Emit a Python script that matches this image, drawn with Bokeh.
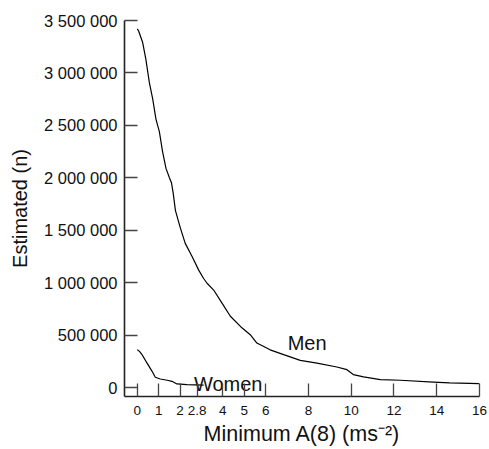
from bokeh.plotting import figure
from bokeh.models import FixedTicker, Range1d, ColumnDataSource
from bokeh.core.properties import value
from bokeh.embed import file_html
from bokeh.resources import INLINE

# ---- data ----
men_x = [0, 0.06, 0.25, 0.4, 0.56, 0.72, 0.87, 1.03, 1.18, 1.34, 1.5, 1.6, 1.68,
         1.78, 2.0, 2.24, 2.56, 2.87, 3.1, 3.26, 3.57, 3.96, 4.35, 4.89, 5.28,
         5.59, 6.21, 6.84, 7.62, 8.4, 9.33, 9.8, 10.1, 10.58, 11.36, 12.29,
         13.85, 14.6, 16]
men_y = [3420000, 3400000, 3290000, 3130000, 2910000, 2750000, 2560000, 2440000,
         2250000, 2090000, 2000000, 1950000, 1850000, 1690000, 1530000, 1375000,
         1250000, 1120000, 1040000, 995000, 930000, 805000, 680000, 570000,
         504000, 425000, 360000, 314000, 260000, 234000, 196000, 171000, 124000,
         102000, 76000, 70000, 53000, 44000, 38000]

women_x = [0, 0.1, 0.22, 0.45, 0.69, 0.84, 1.07, 1.4, 1.62, 1.85, 2.32, 3.1]
women_y = [361000, 345000, 314000, 235000, 155000, 98000, 82000, 70000, 60000,
           35000, 29000, 24000]

label_x = [7.94, 4.25]
label_y = [428000, 38000]
label_text = ["Men", "Women"]

x_ticks = [0, 1, 2, 2.8, 4, 5, 6, 8, 10, 12, 14, 16]
x_tick_labels = ["0", "1", "2", "2.8", "4", "5", "6", "8", "10", "12", "14", "16"]
y_ticks = [0, 500000, 1000000, 1500000, 2000000, 2500000, 3000000, 3500000]
y_tick_labels = ["0", "500 000", "1 000 000", "1 500 000", "2 000 000",
                 "2 500 000", "3 000 000", "3 500 000"]

FONT = "Liberation Sans"

p = figure(width=489, height=449, output_backend="svg", toolbar_location=None,
           x_range=Range1d(-0.6, 16), y_range=Range1d(-85000, 3500000),
           min_border_left=124, min_border_right=10, min_border_top=20,
           min_border_bottom=53)
p.outline_line_color = None
p.xgrid.visible = False
p.ygrid.visible = False
p.background_fill_color = "white"
p.border_fill_color = "white"

p.line(men_x, men_y, line_color="black", line_width=1.2)
p.line(women_x, women_y, line_color="black", line_width=1.2)

src = ColumnDataSource(dict(x=label_x, y=label_y, t=label_text))
p.text(x="x", y="y", text="t", source=src, text_font=value(FONT),
       text_font_size=value("20px"), text_align="center",
       text_baseline="alphabetic", text_color="#111111")

xa = p.xaxis[0]
xa.ticker = FixedTicker(ticks=x_ticks)
xa.major_label_overrides = {t: l for t, l in zip(x_ticks, x_tick_labels)}
xa.axis_label = "Minimum A(8) (ms\u207b\u00b2)"

ya = p.yaxis[0]
ya.ticker = FixedTicker(ticks=y_ticks)
ya.major_label_overrides = {t: l for t, l in zip(y_ticks, y_tick_labels)}
ya.axis_label = "Estimated (n)"

for ax in (xa, ya):
    ax.axis_line_color = "#222222"
    ax.axis_line_width = 1.6
    ax.major_tick_line_color = "#444444"
    ax.major_tick_line_width = 1.3
    ax.major_tick_in = 13
    ax.major_tick_out = 0
    ax.minor_tick_line_color = None
    ax.major_label_text_font = FONT
    ax.major_label_text_color = "#111111"
    ax.axis_label_text_font = FONT
    ax.axis_label_text_font_style = "normal"
    ax.axis_label_text_color = "#111111"

xa.major_label_text_font_size = "13.5px"
xa.major_label_standoff = 9
xa.axis_label_text_font_size = "21.5px"
xa.axis_label_standoff = 4

ya.major_label_text_font_size = "16.5px"
ya.major_label_standoff = 7
ya.axis_label_text_font_size = "20px"
ya.axis_label_standoff = 10

open("out.html", "w").write(file_html(p, INLINE))
